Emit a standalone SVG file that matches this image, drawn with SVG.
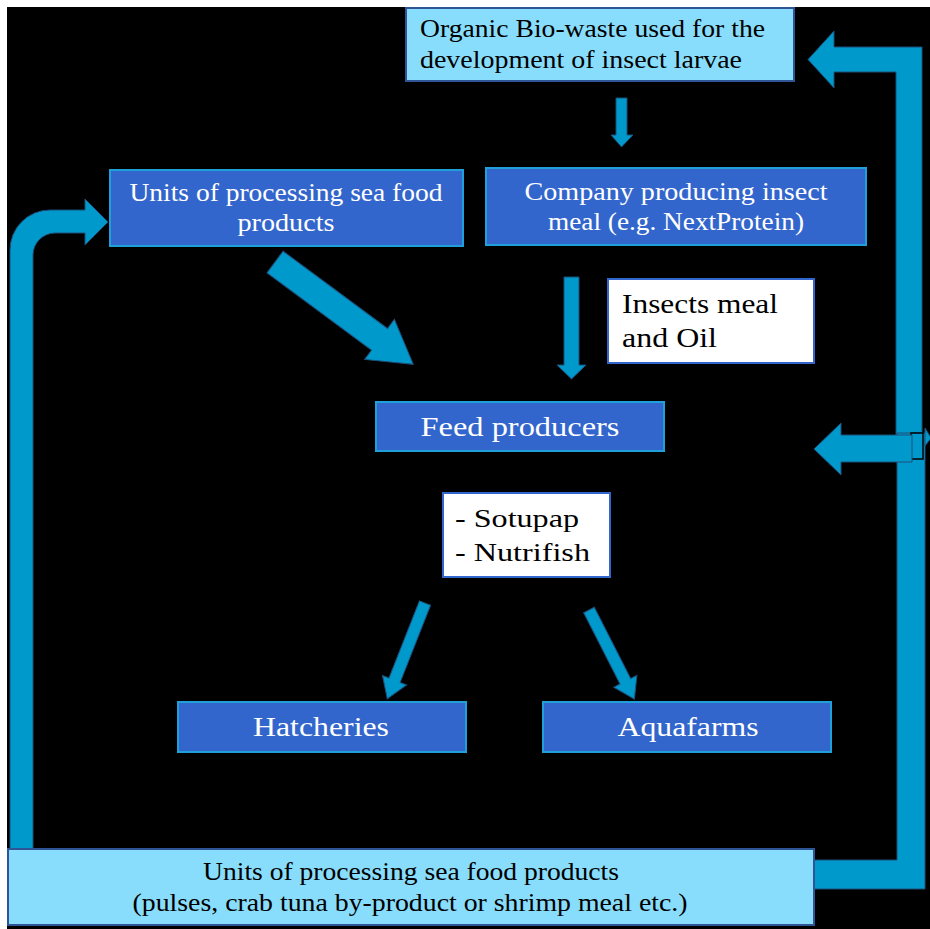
<svg xmlns="http://www.w3.org/2000/svg" width="930" height="929" viewBox="0 0 930 929">
<style>
.blue{fill:#3366CC;stroke:#1FA0D8;stroke-width:2}
.light{fill:#89DDFC;stroke:#2F5597;stroke-width:2}
.white{fill:#FFFFFF;stroke:#3366CC;stroke-width:2}
.arr{fill:#0099CC;stroke:#1F4E79;stroke-width:1}
.tw{font-family:"Liberation Serif",serif;fill:#FFFFFF;font-size:25px;text-anchor:middle}
.tb{font-family:"Liberation Serif",serif;fill:#000000;font-size:25px}
</style>
<rect x="0" y="0" width="930" height="929" fill="#FFFFFF"/>
<rect x="7" y="7" width="923" height="922" fill="#000000"/>
<g id="connectors">
<path class="arr" d="M10,871 L10,250 A40,40 0 0 1 50,210 L85,210 L85,199 L108,222 L85,245 L85,233 L55,233 A22,22 0 0 0 33,255 L33,871 Z"/>
<path class="arr" d="M922,458 L922,47 L834,47 L834,31 L808,59.5 L834,88 L834,72 L896,72 L896,458 Z"/>
<path class="arr" d="M814,860 L897,860 L897,433 L925,433 L925,889 L814,889 Z"/>
<rect x="911" y="433" width="12" height="26" fill="#0099CC" stroke="#000" stroke-width="1.5"/>
<polygon class="arr" points="925,428 931,438 925,446"/>
<polygon class="arr" points="912,435 841,435 841,423 814,449 841,475 841,462 912,462"/>
<polygon class="arr" points="616,98 627,98 627,135 633,135 621.5,147 611,135 616,135"/>
<polygon class="arr" points="564,277 579,277 579,365 586,365 571.5,379 557,365 564,365"/>
<polygon class="arr" points="0,-13.5 130,-13.5 130,-25 172,0 130,25 130,13.5 0,13.5" transform="translate(275,262) rotate(36.5)"/>
<polygon class="arr" points="0,-6 83,-6 83,-13 103,0 83,13 83,6 0,6" transform="translate(425,603) rotate(111.5)"/>
<polygon class="arr" points="0,-6 80,-6 80,-13 100,0 80,13 80,6 0,6" transform="translate(589,610) rotate(63)"/>
</g>
<g id="organic">
<rect class="light" x="406" y="8" width="388" height="73"/>
<text class="tb" x="420" y="37" textLength="345" lengthAdjust="spacingAndGlyphs">Organic Bio-waste used for the</text>
<text class="tb" x="420" y="68" textLength="322" lengthAdjust="spacingAndGlyphs">development of insect larvae</text>
</g>
<g id="units-top">
<rect class="blue" x="110" y="170" width="353" height="76"/>
<text class="tw" x="286" y="201" textLength="313" lengthAdjust="spacingAndGlyphs">Units of processing sea food</text>
<text class="tw" x="286" y="231" textLength="97" lengthAdjust="spacingAndGlyphs">products</text>
</g>
<g id="company">
<rect class="blue" x="486" y="168" width="380" height="77"/>
<text class="tw" x="676" y="200" textLength="303" lengthAdjust="spacingAndGlyphs">Company producing insect</text>
<text class="tw" x="676" y="230" textLength="256" lengthAdjust="spacingAndGlyphs">meal (e.g. NextProtein)</text>
</g>
<g id="insects">
<rect class="white" x="608" y="279" width="206" height="84"/>
<text class="tb" x="622" y="313" style="font-size:27px" textLength="156" lengthAdjust="spacingAndGlyphs">Insects meal</text>
<text class="tb" x="622" y="347" style="font-size:27px" textLength="95" lengthAdjust="spacingAndGlyphs">and Oil</text>
</g>
<g id="feed">
<rect class="blue" x="376" y="402" width="288" height="49"/>
<text class="tw" x="520" y="436" style="font-size:27px" textLength="199" lengthAdjust="spacingAndGlyphs">Feed producers</text>
</g>
<g id="sotupap">
<rect class="white" x="443" y="493" width="167" height="84"/>
<text class="tb" x="455" y="527" style="font-size:26px" textLength="124" lengthAdjust="spacingAndGlyphs">- Sotupap</text>
<text class="tb" x="455" y="561" style="font-size:26px" textLength="135" lengthAdjust="spacingAndGlyphs">- Nutrifish</text>
</g>
<g id="hatcheries">
<rect class="blue" x="178" y="702" width="288" height="50"/>
<text class="tw" x="321" y="736" style="font-size:27px" textLength="136" lengthAdjust="spacingAndGlyphs">Hatcheries</text>
</g>
<g id="aquafarms">
<rect class="blue" x="543" y="702" width="288" height="50"/>
<text class="tw" x="688" y="736" style="font-size:27px" textLength="141" lengthAdjust="spacingAndGlyphs">Aquafarms</text>
</g>
<g id="units-bottom">
<rect class="light" x="8" y="849" width="806" height="76"/>
<text class="tb" x="411" y="880" style="text-anchor:middle" textLength="416" lengthAdjust="spacingAndGlyphs">Units of processing sea food products</text>
<text class="tb" x="410" y="911" style="text-anchor:middle" textLength="555" lengthAdjust="spacingAndGlyphs">(pulses, crab tuna by-product or shrimp meal etc.)</text>
</g>
</svg>
